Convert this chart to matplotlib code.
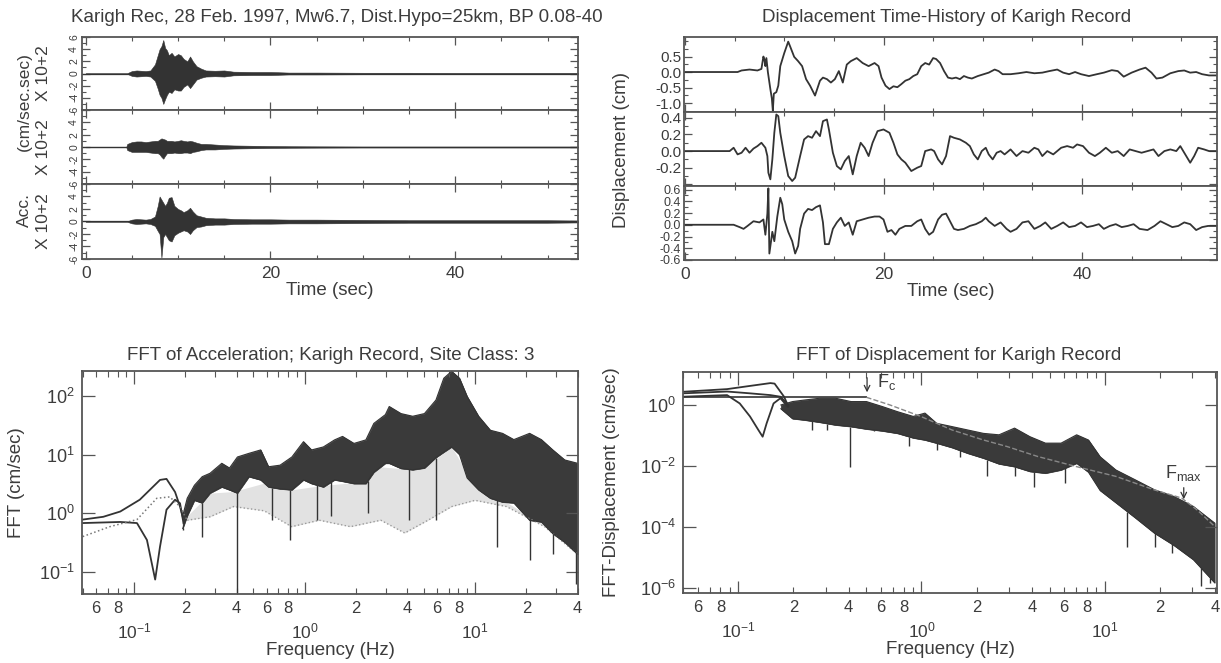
import matplotlib
matplotlib.use('Agg')
import matplotlib.pyplot as plt
from matplotlib.ticker import (FixedLocator, MultipleLocator, NullLocator,
                               FuncFormatter)
import numpy as np

plt.rcParams['font.family'] = ['Liberation Sans', 'DejaVu Sans']
plt.rcParams['mathtext.default'] = 'regular'

INK = '#333333'
TXT = '#3c3c3c'
SPINE = '#555555'
W, H = 1221, 663

# ---------------- acceleration envelopes (x 10^2 cm/s/s) ----------------
t_acc = [0, 4.4, 4.5, 5.0, 5.5, 6.0, 6.5, 7.0, 7.5, 7.8, 8.0, 8.2, 8.4, 8.6, 8.8,
         9.0, 9.3, 9.6, 10.0, 10.3, 10.6, 11.0, 11.3, 11.6, 12.0, 12.5, 13, 14,
         15, 16, 18, 20, 22, 25, 30, 35, 40, 45, 50, 53.5]
acc1_up = [0.05, 0.05, 0.05, 0.4, 0.5, 0.45, 0.4, 0.5, 1.5, 3.0, 4.0, 4.5, 5.5, 4.2, 3.8,
           3.0, 3.4, 2.8, 3.2, 3.0, 2.4, 2.0, 2.8, 2.0, 1.2, 0.8, 0.5, 0.45,
           0.5, 0.3, 0.25, 0.25, 0.15, 0.15, 0.12, 0.12, 0.1, 0.1, 0.1, 0.1]
acc1_lo = [0.05, 0.05, 0.05, 0.4, 0.5, 0.45, 0.4, 0.5, 1.2, 2.5, 3.5, 4.0, 5.0, 4.2, 3.5,
           3.0, 3.2, 2.6, 2.8, 2.8, 2.2, 1.8, 2.4, 1.8, 1.0, 0.7, 0.5, 0.45,
           0.5, 0.3, 0.25, 0.25, 0.15, 0.15, 0.12, 0.12, 0.1, 0.1, 0.1, 0.1]
acc2_up = [0.05, 0.05, 0.5, 0.8, 0.9, 0.9, 0.8, 0.9, 1.0, 1.0, 1.2, 1.4, 1.3, 1.2, 1.0,
           1.0, 1.0, 0.9, 1.0, 1.1, 1.0, 0.9, 1.0, 0.9, 0.7, 0.5, 0.5, 0.4,
           0.3, 0.25, 0.2, 0.15, 0.12, 0.1, 0.08, 0.08, 0.08, 0.08, 0.08, 0.08]
acc2_lo = [0.05, 0.05, 0.5, 0.8, 0.8, 0.8, 0.8, 0.9, 1.0, 1.0, 1.2, 1.6, 1.9, 1.4, 1.0,
           1.0, 1.0, 0.9, 1.0, 1.0, 0.9, 0.9, 1.0, 0.8, 0.7, 0.5, 0.4, 0.4,
           0.3, 0.25, 0.2, 0.15, 0.12, 0.1, 0.08, 0.08, 0.08, 0.08, 0.08, 0.08]
acc3_up = [0.05, 0.05, 0.05, 0.3, 0.4, 0.35, 0.3, 0.4, 0.8, 2.5, 4.0, 3.5, 3.0, 2.5, 3.0,
           3.8, 3.9, 2.5, 2.0, 1.8, 1.5, 1.8, 2.2, 1.6, 1.0, 0.8, 0.6, 0.5,
           0.5, 0.4, 0.35, 0.35, 0.3, 0.3, 0.25, 0.2, 0.2, 0.2, 0.2, 0.15]
acc3_lo = [0.05, 0.05, 0.05, 0.3, 0.4, 0.35, 0.3, 0.4, 0.7, 1.5, 2.0, 5.8, 2.5, 2.0, 2.5,
           3.0, 3.2, 2.2, 1.8, 1.6, 1.4, 1.6, 2.0, 1.4, 0.9, 0.8, 0.6, 0.5,
           0.5, 0.4, 0.35, 0.35, 0.3, 0.3, 0.25, 0.2, 0.2, 0.2, 0.2, 0.15]

# ---------------- displacement traces (cm) ----------------
t_d1 = [0, 5.3, 5.7, 6.5, 7.3, 7.7, 7.9, 8.0, 8.1, 8.2, 8.35, 8.6, 8.75, 8.85, 8.95,
        9.2, 9.4, 9.6, 10.0, 10.4, 10.6, 11.0, 11.4, 11.8, 12.2, 12.6, 13.1, 13.6,
        13.9, 14.3, 14.7, 15.1, 15.5, 15.9, 16.3, 16.7, 17.3, 17.9, 18.5, 19.1,
        19.5, 19.8, 20.2, 20.6, 21.0, 21.4, 21.8, 22.2, 22.6, 23.0, 23.4, 23.8,
        24.2, 24.6, 25.0, 25.3, 25.7, 26.1, 26.5, 26.9, 27.3, 27.7, 28.1, 28.5,
        28.9, 29.5, 30.1, 30.6, 31.2, 31.6, 32.0, 32.8, 33.6, 34.4, 35.2, 36.0,
        36.7, 37.5, 38.1, 38.7, 39.3, 39.9, 40.7, 41.5, 42.2, 43.0, 43.6, 44.2,
        45.0, 45.8, 46.4, 47.0, 47.5, 48.1, 48.9, 49.7, 50.3, 50.9, 51.5, 52.1,
        52.8, 53.5]
d1 = [0, 0, 0.05, 0.08, 0.05, 0.1, 0.5, 0.4, 0.19, 0.45, 0.0, -0.55, -0.85, -1.25, -0.7,
      -0.65, -0.44, 0.19, 0.61, 0.98, 0.82, 0.49, 0.35, 0.19, -0.23, -0.44, -0.76, -0.28,
      -0.18, -0.23, -0.34, -0.23, 0.03, -0.34, 0.24, 0.35, 0.45, 0.29, 0.19, 0.29,
      0.19, -0.18, -0.44, -0.55, -0.46, -0.49, -0.39, -0.28, -0.23, -0.13, -0.07, 0.19,
      0.29, 0.24, 0.45, 0.42, 0.29, 0.03, -0.18, -0.21, -0.18, -0.23, -0.13, -0.18,
      -0.21, -0.13, -0.07, -0.02, 0.08, 0.03, -0.07, -0.07, -0.04, 0.0, -0.04, -0.02,
      0.03, 0.08, -0.02, -0.07, 0.0, -0.07, -0.13, -0.07, -0.02, 0.06, 0.03, -0.15,
      -0.02, 0.08, 0.14, -0.02, -0.21, -0.18, -0.04, 0.03, 0.05, -0.02, 0.0, -0.07,
      -0.11, -0.11]

t_d2 = [0, 4.5, 4.9, 5.3, 5.7, 6.1, 6.5, 6.9, 7.3, 7.7, 8.1, 8.3, 8.4, 8.6, 8.8, 9.0,
        9.2, 9.4, 9.6, 10.0, 10.4, 10.8, 11.1, 11.6, 12.0, 12.4, 12.8, 13.2, 13.6,
        13.9, 14.3, 14.5, 14.9, 15.3, 15.7, 16.1, 16.5, 16.9, 17.3, 17.7, 18.1,
        18.5, 18.9, 19.4, 20.0, 20.6, 21.0, 21.4, 21.8, 22.2, 22.8, 23.4, 23.8,
        24.2, 24.8, 25.1, 25.5, 25.9, 26.3, 26.7, 27.1, 27.7, 28.3, 28.7, 29.1,
        29.5, 29.9, 30.3, 30.6, 31.0, 31.4, 31.8, 32.2, 32.8, 33.4, 34.0, 34.6,
        35.2, 35.6, 36.0, 36.5, 37.1, 37.9, 38.5, 39.1, 39.5, 40.1, 40.7, 41.3,
        41.8, 42.4, 43.0, 43.6, 44.2, 44.8, 45.4, 46.0, 46.6, 47.2, 47.7, 48.3,
        48.9, 49.5, 49.9, 50.3, 50.9, 51.3, 51.7, 52.3, 52.8, 53.5]
d2 = [0, 0, 0.04, -0.04, -0.02, 0.04, -0.02, 0.03, 0.06, 0.1, 0.04, -0.06, -0.26, -0.34,
      -0.1, 0.22, 0.44, 0.42, 0.22, -0.06, -0.3, -0.36, -0.32, -0.06, 0.14, 0.18, 0.16,
      0.24, 0.18, 0.36, 0.38, 0.26, -0.02, -0.18, -0.22, -0.12, -0.06, -0.28, -0.06,
      0.1, 0.04, -0.06, 0.1, 0.24, 0.26, 0.22, 0.1, -0.04, -0.1, -0.14, -0.24, -0.2,
      -0.18, 0.0, 0.02, 0.0, -0.1, -0.16, -0.06, 0.18, 0.16, 0.14, 0.1, 0.06, -0.04,
      -0.1, 0.0, 0.04, -0.04, -0.1, -0.02, 0.0, -0.04, 0.02, -0.06, 0.0, -0.02, 0.04,
      0.02, -0.06, 0.0, -0.04, 0.04, 0.06, 0.04, 0.08, 0.06, -0.02, -0.06, -0.02, 0.04,
      -0.02, 0.0, -0.06, 0.02, 0.0, -0.02, 0.0, 0.02, -0.06, 0.0, 0.02, 0.0, 0.06,
      -0.02, -0.14, -0.06, 0.04, 0.02, 0.0, 0.0]

t_d3 = [0, 4.5, 4.9, 5.5, 5.9, 6.3, 6.9, 7.5, 7.9, 8.1, 8.3, 8.4, 8.5, 8.8, 9.0, 9.3,
        9.6, 9.8, 10.0, 10.4, 10.8, 11.1, 11.4, 11.6, 12.0, 12.4, 12.8, 13.2, 13.6,
        13.9, 14.1, 14.5, 14.9, 15.3, 15.7, 16.1, 16.5, 16.9, 17.3, 17.9, 18.5,
        19.1, 19.6, 20.0, 20.4, 20.8, 21.2, 21.6, 22.2, 22.8, 23.4, 23.8, 24.2,
        24.6, 25.0, 25.5, 25.9, 26.3, 26.7, 27.1, 27.5, 28.1, 28.7, 29.3, 29.9,
        30.3, 30.6, 31.2, 31.8, 32.4, 32.8, 33.4, 34.0, 34.6, 35.2, 35.8, 36.3,
        36.9, 37.5, 38.1, 38.7, 39.3, 39.9, 40.5, 41.1, 41.7, 42.2, 42.8, 43.4,
        44.0, 44.6, 45.2, 45.8, 46.6, 47.3, 47.9, 48.5, 49.1, 49.7, 50.3, 50.9,
        51.5, 52.1, 52.7, 53.5]
d3 = [0, 0, 0, -0.04, -0.07, -0.02, 0.06, 0.04, 0.09, -0.17, 0.19, 0.62, -0.49, -0.12,
      -0.28, 0.14, 0.46, 0.35, 0.09, -0.12, -0.28, -0.49, -0.36, -0.07, 0.19, 0.27,
      0.25, 0.3, 0.33, 0.04, -0.33, -0.33, -0.07, 0.04, 0.12, -0.02, 0.04, -0.17, 0.06,
      0.09, 0.12, 0.14, 0.14, 0.09, -0.12, -0.09, -0.17, -0.07, -0.02, -0.02, 0.06,
      0.09, -0.07, -0.17, -0.12, 0.09, 0.17, 0.19, 0.06, -0.07, -0.09, -0.07, -0.02,
      0.01, 0.06, 0.12, 0.06, -0.02, 0.04, -0.07, -0.12, -0.07, 0.04, 0.06, -0.07,
      -0.02, 0.04, -0.07, -0.02, 0.04, -0.04, -0.02, 0.04, -0.04, -0.02, 0.01, -0.07,
      -0.02, 0.01, -0.04, -0.02, 0.01, -0.07, -0.09, -0.02, 0.06, 0.01, -0.04, -0.02,
      0.04, 0.01, -0.09, -0.04, -0.02, -0.02]

# ---------------- FFT of acceleration (cm/sec) ----------------
fa_band = [0.193, 0.205, 0.226, 0.251, 0.279, 0.327, 0.363, 0.404, 0.472, 0.553, 0.615,
           0.719, 0.843, 0.986, 1.10, 1.29, 1.50, 1.67, 1.95, 2.29, 2.55, 2.98,
           3.14, 3.68, 4.31, 5.05, 5.90, 6.56, 7.29, 8.11, 8.99, 10.5, 12.3, 14.5,
           16.9, 20.9, 24.5, 28.6, 33.6, 40.0]
fa_up = [0.9, 1.8, 3.0, 4.2, 4.8, 7.1, 5.9, 9.1, 10.5, 12, 6.2, 6.6, 9.1, 16.6, 12, 13.5,
         17.8, 20.4, 15.5, 17.8, 34, 48, 66, 50, 45, 50, 85, 200, 263, 200, 98, 45,
         26, 23, 18, 23, 18, 12, 8.1, 7.1]
fa_lo = [0.55, 0.9, 1.66, 1.5, 2.2, 2.8, 2.5, 2.2, 4.2, 3.7, 2.8, 2.6, 2.5, 3.7, 3.2, 2.8,
         3.7, 3.5, 3.2, 3.2, 5.0, 7.1, 7.1, 5.8, 5.5, 5.9, 8.9, 11, 13.5, 10, 4.0, 2.5,
         1.8, 1.55, 1.5, 0.76, 0.71, 0.45, 0.32, 0.2]
fa_dot_f = [0.205, 0.279, 0.383, 0.58, 0.84, 1.22, 1.86, 2.8, 3.87, 5.3, 7.3, 10,
            15.3, 25.6, 40]
fa_dot_lo = [0.76, 0.87, 1.3, 1.1, 0.59, 0.76, 0.59, 0.76, 0.46, 0.76, 1.3, 1.66,
             1.3, 0.59, 0.2]
fa_dip_f = [0.193, 0.25, 0.40, 0.647, 0.82, 1.19, 1.43, 2.35, 4.08, 5.9, 13.4, 20.9,
            28.6, 39.3]
fa_dip_v = [0.51, 0.40, 0.043, 0.76, 0.35, 0.76, 0.9, 1.0, 0.76, 0.76, 0.27, 0.16,
            0.2, 0.063]
fa_low1_f = [0.050, 0.066, 0.083, 0.108, 0.142, 0.155, 0.174, 0.186, 0.193]
fa_low1_v = [0.78, 0.87, 1.07, 1.7, 3.7, 3.85, 2.3, 1.3, 0.87]
fa_low2_f = [0.050, 0.083, 0.104, 0.119, 0.133, 0.142, 0.155, 0.174, 0.186, 0.195]
fa_low2_v = [0.68, 0.71, 0.68, 0.35, 0.074, 0.27, 1.15, 1.7, 1.48, 0.68]
fa_low3_f = [0.050, 0.072, 0.104, 0.136, 0.162, 0.186, 0.204]
fa_low3_v = [0.40, 0.59, 0.78, 1.8, 1.9, 1.3, 0.78]

# ---------------- FFT of displacement ----------------
fd_band = [0.171, 0.198, 0.230, 0.279, 0.340, 0.413, 0.501, 0.610, 0.741, 0.902,
           1.045, 1.21, 1.47, 1.79, 2.18, 2.65, 3.22, 3.91, 4.75, 5.78, 7.03, 8.15,
           9.44, 11.5, 14.7, 18.7, 23.9, 30.5, 39.8]
fd_up = [1.0, 1.29, 1.45, 1.66, 1.66, 1.29, 1.29, 0.89, 0.60, 0.42, 0.54, 0.25,
         0.195, 0.151, 0.117, 0.105, 0.174, 0.091, 0.056, 0.056, 0.105, 0.071, 0.020,
         0.0074, 0.0035, 0.00166, 0.001, 0.00047, 0.000135]
fd_lo = [0.75, 0.355, 0.32, 0.27, 0.22, 0.195, 0.162, 0.141, 0.117, 0.083, 0.071,
         0.056, 0.040, 0.026, 0.018, 0.0117, 0.0095, 0.0066, 0.0058, 0.0074, 0.0123,
         0.0063, 0.00158, 0.00063, 0.0002, 6.3e-5, 2.5e-5, 8.5e-6, 1.5e-6]
fd_dip_f = [0.253, 0.307, 0.408, 0.553, 0.859, 1.21, 1.62, 2.29, 3.22, 4.11, 6.05,
            13.3, 18.7, 23.2, 33.6, 37.6]
fd_dip_v = [0.151, 0.151, 0.0095, 0.135, 0.044, 0.034, 0.020, 0.0046, 0.0046, 0.0021,
            0.0027, 2.3e-5, 2.3e-5, 1.4e-5, 1.15e-6, 1.5e-6]
fd_low1_f = [0.050, 0.087, 0.116, 0.150, 0.158, 0.178, 0.188]
fd_low1_v = [2.7, 3.3, 4.2, 5.2, 5.0, 1.86, 0.89]
fd_low2_f = [0.050, 0.087, 0.116, 0.150, 0.170, 0.188]
fd_low2_v = [2.4, 2.75, 2.4, 2.1, 1.86, 1.0]
fd_low3_f = [0.050, 0.087, 0.102, 0.116, 0.129, 0.136, 0.143, 0.156, 0.170, 0.186]
fd_low3_v = [1.86, 2.1, 1.12, 0.42, 0.15, 0.091, 0.25, 1.12, 1.66, 0.89]
model_f = [0.501, 0.673, 0.995, 1.47, 2.18, 2.92, 4.32, 7.03, 11.5, 18.6, 26.3, 32.0, 39.8]
model_v = [1.78, 1.0, 0.417, 0.151, 0.071, 0.0437, 0.0204, 0.0095, 0.00457, 0.00166,
           0.00089, 0.00036, 0.000105]
fc_f, fc_level = 0.505, 1.82
fmax_f = 27.0


fig = plt.figure(figsize=(W / 100, H / 100), dpi=100)


def px_axes(l, t, r, b):
    return fig.add_axes([l / W, 1 - b / H, (r - l) / W, (b - t) / H])


def ftext(x, y, s, **kw):
    kw.setdefault('color', TXT)
    fig.text(x / W, 1 - y / H, s, **kw)


def style(ax):
    for sp in ax.spines.values():
        sp.set_color(SPINE)
        sp.set_linewidth(1.3)
    ax.tick_params(which='both', direction='in', top=True, right=True,
                   color=SPINE, labelcolor=TXT)
    ax.tick_params(which='major', length=6, width=0.9)
    ax.tick_params(which='minor', length=3, width=0.8)


# ---------------- top-left: acceleration ----------------
acc_sets = [(acc1_up, acc1_lo), (acc2_up, acc2_lo), (acc3_up, acc3_lo)]
rows_tl = [(37, 110), (110, 184), (184, 259)]
for i, ((up, lo), (t, b)) in enumerate(zip(acc_sets, rows_tl)):
    ax = px_axes(82, t, 578, b)
    style(ax)
    ax.fill_between(t_acc, [-v for v in lo], up, color=INK, lw=0.4)
    ax.axhline(0, color=INK, lw=0.9)
    ax.set_xlim(-0.4, 53.3)
    ax.set_ylim(-6, 6)
    ax.xaxis.set_major_locator(FixedLocator([0, 20, 40]))
    ax.xaxis.set_minor_locator(MultipleLocator(5))
    ax.yaxis.set_major_locator(MultipleLocator(2))
    ax.yaxis.set_minor_locator(MultipleLocator(1))
    ax.yaxis.set_major_formatter(FuncFormatter(
        lambda v, p, top=(i > 0): '' if (top and v > 5.5) else '%d' % round(v)))
    ax.tick_params(axis='y', labelsize=7.5, labelrotation=90, pad=2)
    for lab in ax.get_yticklabels():
        lab.set_verticalalignment('center')
    ax.tick_params(axis='x', labelsize=12.5, pad=5)
    if i < 2:
        ax.tick_params(axis='x', labelbottom=False)
    else:
        ax.set_xlabel('Time (sec)', fontsize=13.5, color=TXT, labelpad=1)
    ftext(43, (t + b) / 2, 'X 10+2', rotation=90, fontsize=12.5,
          ha='center', va='center')
ftext(24, 210, 'Acc.', rotation=90, fontsize=12.5, ha='center', va='center')
ftext(24, 102, '(cm/sec.sec)', rotation=90, fontsize=12.5, ha='center', va='center')
ftext(337, 18, 'Karigh Rec, 28 Feb. 1997, Mw6.7, Dist.Hypo=25km, BP 0.08-40',
      fontsize=13.5, ha='center', va='center')

# ---------------- top-right: displacement ----------------
disp_sets = [(t_d1, d1, (-1.29, 1.13), [-1.0, -0.5, 0.0, 0.5], 0.25, 11),
             (t_d2, d2, (-0.42, 0.47), [-0.4, -0.2, 0.0, 0.2, 0.4], 0.1, 11),
             (t_d3, d3, (-0.6, 0.66), [-0.6, -0.4, -0.2, 0.0, 0.2, 0.4, 0.6], 0.1, 9)]
rows_tr = [(37, 112), (112, 186), (186, 260)]
for i, ((tt, dd, yl, yt, ym, fs), (t, b)) in enumerate(zip(disp_sets, rows_tr)):
    ax = px_axes(684, t, 1217, b)
    style(ax)
    ax.plot(tt, dd, color=INK, lw=1.3)
    ax.set_xlim(-0.1, 53.6)
    ax.set_ylim(*yl)
    ax.xaxis.set_major_locator(FixedLocator([0, 20, 40]))
    ax.xaxis.set_minor_locator(MultipleLocator(5))
    ax.yaxis.set_major_locator(FixedLocator(yt))
    ax.yaxis.set_minor_locator(MultipleLocator(ym))
    ax.yaxis.set_major_formatter(FuncFormatter(
        lambda v, p, skip=(i == 1): '' if (skip and v < -0.35) else '%.1f' % v))
    ax.tick_params(axis='y', labelsize=fs, pad=2)
    ax.tick_params(axis='x', labelsize=12.5, pad=5)
    if i < 2:
        ax.tick_params(axis='x', labelbottom=False)
    else:
        ax.set_xlabel('Time (sec)', fontsize=13.5, color=TXT, labelpad=1)
ftext(622, 150, 'Displacement (cm)', rotation=90, fontsize=13.5,
      ha='center', va='center')
ftext(947, 18, 'Displacement Time-History of Karigh Record', fontsize=13.5,
      ha='center', va='center')


def decade_label(v, pos):
    return r'$10^{%d}$' % int(round(np.log10(v)))


def minor_label(v, pos):
    m = v / 10 ** np.floor(np.log10(v) + 1e-9)
    m = int(round(m))
    return str(m) if m in (2, 4, 6, 8) else ''


def log_axes(ax, xlim, ylim, ymajor):
    style(ax)
    ax.set_xscale('log')
    ax.set_yscale('log')
    ax.set_xlim(*xlim)
    ax.set_ylim(*ylim)
    ax.xaxis.set_major_locator(FixedLocator([0.1, 1, 10]))
    ax.xaxis.set_minor_locator(FixedLocator(
        [m * 10.0 ** e for e in (-2, -1, 0, 1) for m in range(2, 10)]))
    ax.xaxis.set_major_formatter(FuncFormatter(decade_label))
    ax.xaxis.set_minor_formatter(FuncFormatter(minor_label))
    ax.yaxis.set_major_locator(FixedLocator(ymajor))
    ax.yaxis.set_minor_locator(NullLocator())
    ax.yaxis.set_major_formatter(FuncFormatter(decade_label))
    ax.tick_params(which='major', length=9)
    ax.tick_params(which='minor', length=4)
    ax.tick_params(axis='x', which='minor', labelsize=12, pad=5)
    ax.tick_params(axis='x', which='major', labelsize=12.5, pad=20)
    ax.tick_params(axis='y', labelsize=13, pad=5)
    ax.set_xlabel('Frequency (Hz)', fontsize=13.5, color=TXT, labelpad=0)


def band(ax, f, lo, up):
    ax.fill_between(f, lo, up, color='#3a3a3a', lw=0.5)
    ax.plot(f, up, color=INK, lw=0.8)
    ax.plot(f, lo, color=INK, lw=0.8)


def spikes(ax, band_f, band_lo, dip_f, dip_v):
    tops = 10 ** np.interp(np.log10(dip_f), np.log10(band_f), np.log10(band_lo))
    ax.vlines(dip_f, dip_v, tops, color=INK, lw=1.0)


# ---------------- bottom-left: FFT of acceleration ----------------
ax = px_axes(82, 371, 578, 594)
log_axes(ax, (0.0495, 40.2), (0.042, 266), [0.1, 1, 10, 100])
dot_top = 10 ** np.interp(np.log10(fa_dot_f), np.log10(fa_band), np.log10(fa_lo))
ax.fill_between(fa_dot_f, fa_dot_lo, dot_top, color='#e2e2e2', lw=0)
ax.plot(fa_dot_f, fa_dot_lo, color='#9a9a9a', lw=1.0, ls=':')
band(ax, fa_band, fa_lo, fa_up)
spikes(ax, fa_band, fa_lo, fa_dip_f, fa_dip_v)
ax.plot(fa_low1_f, fa_low1_v, color=INK, lw=1.3)
ax.plot(fa_low2_f, fa_low2_v, color=INK, lw=1.3)
ax.plot(fa_low3_f, fa_low3_v, color='#777777', lw=1.1, ls=':')
ax.set_ylabel('FFT (cm/sec)', fontsize=13.5, color=TXT)
ax.yaxis.set_label_coords((25 - 82) / (578 - 82), 0.5)
ftext(331, 355, 'FFT of Acceleration; Karigh Record, Site Class: 3',
      fontsize=13.5, ha='center', va='center')

# ---------------- bottom-right: FFT of displacement ----------------
ax = px_axes(683, 372, 1217, 593)
log_axes(ax, (0.050, 41), (6.9e-7, 12), [1e-6, 1e-4, 1e-2, 1])
band(ax, fd_band, fd_lo, fd_up)
spikes(ax, fd_band, fd_lo, fd_dip_f, fd_dip_v)
ax.plot(fd_low1_f, fd_low1_v, color=INK, lw=1.3)
ax.plot(fd_low2_f, fd_low2_v, color=INK, lw=1.3)
ax.plot(fd_low3_f, fd_low3_v, color=INK, lw=1.3)
ax.hlines(fc_level, 0.050, fc_f, color=INK, lw=1.2)
ax.plot(model_f, model_v, color='#888888', lw=1.0, ls='--')
ax.annotate('', xy=(fc_f, 2.1), xytext=(fc_f, 9.6),
            arrowprops=dict(arrowstyle='->', color=INK, lw=0.9))
ax.text(0.575, 5.6, r'$F_c$', fontsize=13, color=TXT, va='center')
ax.text(fmax_f, 0.0059, r'$F_{max}$', fontsize=13, color=TXT, ha='center',
        va='center')
ax.annotate('', xy=(fmax_f, 0.00066), xytext=(fmax_f, 0.0024),
            arrowprops=dict(arrowstyle='->', color=INK, lw=0.9))
ax.set_ylabel('FFT-Displacement (cm/sec)', fontsize=13.5, color=TXT)
ax.yaxis.set_label_coords((620 - 683) / (1217 - 683), 0.5)
ftext(959, 355, 'FFT of Displacement for Karigh Record', fontsize=13.5,
      ha='center', va='center')

fig.savefig('out.png', dpi=100, facecolor='white')
